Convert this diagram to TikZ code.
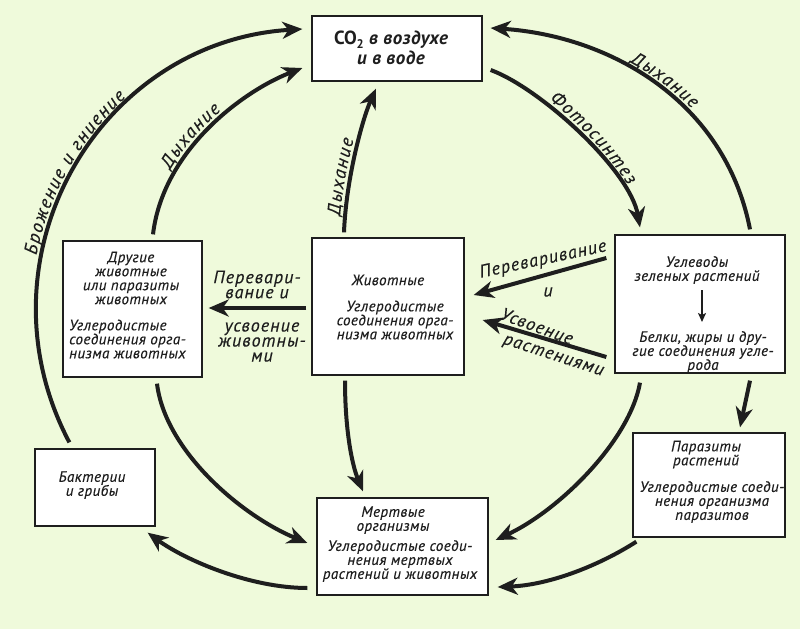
\documentclass[tikz,border=0pt]{standalone}
\usepackage{fontspec}
\setmainfont{PT Sans}
\newfontfamily\itfam{PT Sans Italic}[FakeBold=0.3,LetterSpace=3]
\newfontfamily\lblfam{PT Sans Italic}[FakeBold=0.3,LetterSpace=6]
\newfontfamily\cofam{PT Sans Bold}
\newfontfamily\coitfam{PT Sans Bold Italic}[LetterSpace=3]
\usetikzlibrary{arrows.meta,decorations.text,calc}
\definecolor{bg}{RGB}{239,250,219}
\definecolor{ink}{RGB}{30,30,30}
\newcommand{\boxfnt}{\itfam\fontsize{15}{14}\selectfont}
\newcommand{\lblfnt}{\lblfam\fontsize{18}{15}\selectfont}
\newcommand{\crvfnt}{\lblfam\fontsize{18.5}{15}\selectfont}
\newcommand{\ks}{\kern1.3pt}
\begin{document}
\begin{tikzpicture}[x=1pt,y=-1pt,
 box/.style={draw=ink,line width=1.3pt,fill=white,inner sep=0pt},
 txt/.style={font=\boxfnt,align=center,inner sep=0pt,text=ink},
 lbl/.style={font=\lblfnt,align=center,inner sep=0pt,text=ink},
 arr/.style={draw=ink,line width=4pt,-{Stealth[length=20pt,width=17pt,inset=6pt]}},
 curvelbl/.style={decorate,decoration={text along path,text color=ink,#1}},
]
\useasboundingbox (0,0) rectangle (800,629);
\fill[bg] (0,0) rectangle (800,629);

% boxes
\node[box,minimum width=170pt,minimum height=65pt] (co2) at (397,48.5) {};
\node[box,minimum width=139pt,minimum height=136pt] (other) at (132.5,309) {};
\node[box,minimum width=152pt,minimum height=137pt] (anim) at (388,306.5) {};
\node[box,minimum width=170pt,minimum height=138pt] (plants) at (700,304) {};
\node[box,minimum width=152pt,minimum height=104pt] (paras) at (709,485) {};
\node[box,minimum width=120pt,minimum height=77pt] (bact) at (95,487.5) {};
\node[box,minimum width=171pt,minimum height=97pt] (dead) at (402.5,546.5) {};

% box texts
\node[txt,font=\coitfam\fontsize{19}{20}\selectfont] (co2t) at (391,48) {{\cofam CO\raisebox{-0.45ex}{\fontsize{12.5}{12}\selectfont 2}} в воздухе\\и в воде};
\node[txt] (othera) at (131,278) {Другие\\животные\\или паразиты\\животных};
\node[txt,align=left,anchor=west] (otherb) at (69,339) {Углеродистые\\соединения орга-\\низма животных};
\node[txt] (anima) at (388,280) {Животные};
\node[txt] (animb) at (395,320) {Углеродистые\\соединения орга-\\низма животных};
\node[txt] (pl1) at (697,270) {Углеводы\\зеленых растений};
\node[txt] (pl2) at (703,352) {Белки, жиры и дру-\\гие соединения угле-\\рода};
\node[txt] (pa1) at (706,454.5) {Паразиты\\растений};
\node[txt] (pa2) at (712,502) {Углеродистые соеди-\\нения организма\\паразитов};
\node[txt] (ba) at (92,485) {Бактерии\\и грибы};
\node[txt] (de1) at (393,520) {Мертвые\\организмы};
\node[txt] (de2) at (400,561) {Углеродистые соеди-\\нения мертвых\\растений и животных};

% small arrow inside plants box
\coordinate (sa) at (702,290);
\coordinate (sb) at (702,322);
\draw[ink,line width=1.5pt,-{Stealth[length=9pt,width=8pt,inset=2pt]}] (sa) -- (sb);

% connector end points
\coordinate (a1s) at ($(bact.north west)+(35,-6)$);
\coordinate (a1e) at ($(co2.west)+(-9,-19.5)$);
\coordinate (a2s) at ($(other.north)+(20.5,-6)$);
\coordinate (a2e) at ($(co2.west)+(-9,19.5)$);
\coordinate (a3s) at ($(anim.north)+(-44,-5)$);
\coordinate (a3e) at ($(co2.south)+(-21,7)$);
\coordinate (a4s) at ($(plants.north)+(50,-5)$);
\coordinate (a4e) at ($(co2.east)+(8,-20.5)$);
\coordinate (a5s) at ($(co2.east)+(8,21.5)$);
\coordinate (a5e) at ($(plants.north)+(-60,-7)$);

% connectors
\draw[arr] (a1s) .. controls (-27,260) and (96,42) .. (a1e);
\draw[arr] (a2s) .. controls (163,150) and (243,91) .. (a2e);
\draw[arr] (a3s) .. controls (346,180) and (362,120) .. (a3e);
\draw[arr] (a4s) .. controls (725,101) and (610,36) .. (a4e);
\draw[arr] (a5s) .. controls (540,88) and (630,170) .. (a5e);
\draw[arr] ($(plants.west)+(-8,-46)$) -- ($(anim.east)+(9,-11.5)$);
\draw[arr] ($(plants.west)+(-8,53)$) -- ($(anim.east)+(18,13.5)$);
\draw[arr] ($(anim.west)+(-5,1.5)$) -- ($(other.east)+(6,-1)$);
\draw[arr] ($(other.south)+(24.5,6)$) .. controls (165,450) and (240,515) .. ($(dead.west)+(-9,-3.5)$);
\draw[arr] ($(anim.south)+(-43,5)$) .. controls (345,430) and (352,465) .. ($(dead.north)+(-39.5,-6)$);
\draw[arr] ($(plants.south)+(-60,9)$) .. controls (630,440) and (560,510) .. ($(dead.east)+(7,-6.5)$);
\draw[arr] ($(plants.south)+(50,7)$) -- ($(paras.north)+(31,-5)$);
\draw[arr] ($(paras.south west)+(4,4)$) .. controls (600,565) and (550,585) .. ($(dead.east)+(9,40.5)$);
\draw[arr] ($(dead.west)+(-9,41.5)$) .. controls (250,588) and (185,560) .. ($(bact.south east)+(-8,6)$);

% curved labels
\path[curvelbl={text={|\crvfnt|Б{\ks}р{\ks}о{\ks}ж{\ks}е{\ks}н{\ks}и{\ks}е {\ks}и {\ks}г{\ks}н{\ks}и{\ks}е{\ks}н{\ks}и{\ks}е},text align={align=left,left indent=192pt},raise=5pt}] (a1s) .. controls (-27,260) and (96,42) .. (a1e);
\path[curvelbl={text={|\crvfnt|Д{\ks}ы{\ks}х{\ks}а{\ks}н{\ks}и{\ks}е},text align={align=left,left indent=66pt},raise=5pt}] (a2s) .. controls (163,150) and (243,91) .. (a2e);
\path[curvelbl={text={|\crvfnt|Д{\ks}ы{\ks}х{\ks}а{\ks}н{\ks}и{\ks}е},text align={align=left,left indent=16pt},raise=5pt}] (a3s) .. controls (346,180) and (362,120) .. (a3e);
\path[curvelbl={text={|\crvfnt|Ф{\ks}о{\ks}т{\ks}о{\ks}с{\ks}и{\ks}н{\ks}т{\ks}е{\ks}з},text align={align=left,left indent=65pt},raise=5pt}] (a5s) .. controls (540,88) and (630,170) .. (a5e);
\path[curvelbl={text={|\crvfnt|Д{\ks}ы{\ks}х{\ks}а{\ks}н{\ks}и{\ks}е},text align={align=left,left indent=143pt},raise=4.5pt}] (a4e) .. controls (610,36) and (725,101) .. (a4s);

% straight labels
\node[lbl] (ll1) at (257,284.5) {Перевари-\\вание и};
\node[lbl] (ll2) at (262,342) {усвоение\\животны-\\ми};
\node[lbl,rotate=12] (rl1) at (543,260) {Переваривание};
\node[lbl] (rl2) at (548,292) {и};
\node[lbl,rotate=-20] (rl3) at (537,326) {Усвоение};
\node[lbl,rotate=-18] (rl4) at (553,357) {растениями};
\end{tikzpicture}
\end{document}
